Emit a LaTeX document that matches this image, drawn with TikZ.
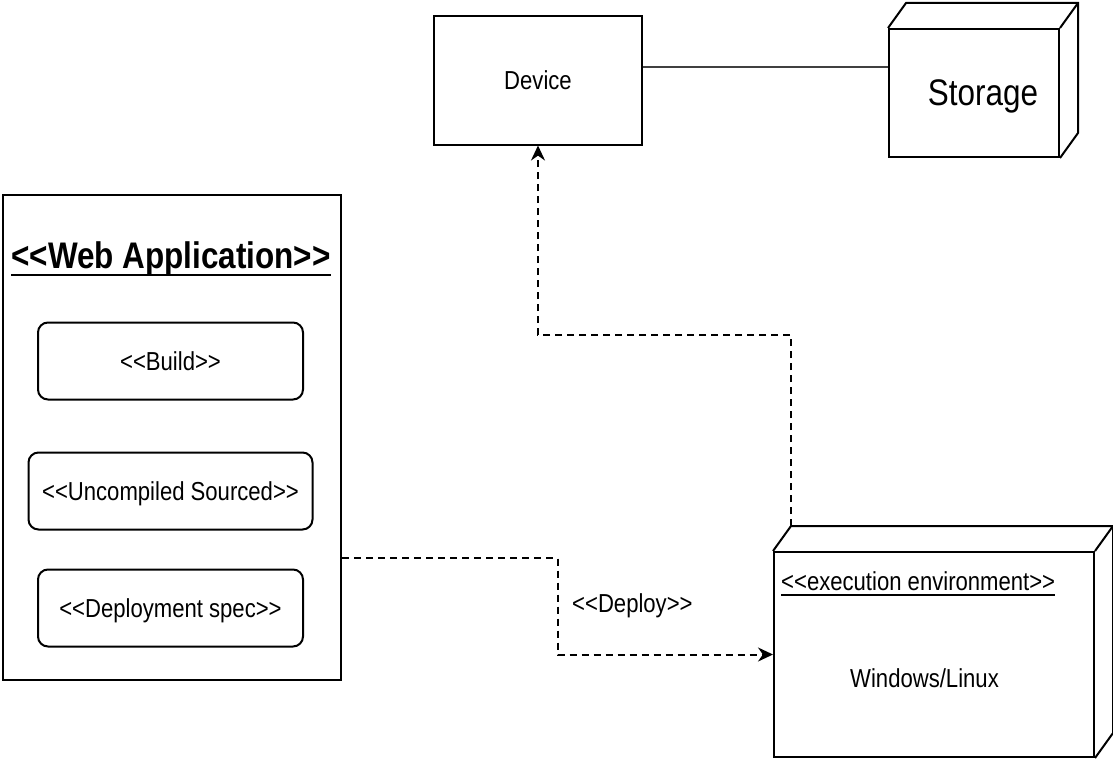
\documentclass[tikz,border=0pt]{standalone}
\usepackage{fontspec}
\setmainfont{Liberation Sans}[FakeStretch=0.85,Ligatures=TeXOff]
\usetikzlibrary{arrows.meta,positioning,calc}

\begin{document}
\begin{tikzpicture}[x=1pt,y=-1pt,>={Stealth[length=15pt,width=14pt]},
        every node/.style={inner sep=0pt,font=\fontsize{26}{31}\selectfont},
        box/.style={draw,line width=2pt},
        part/.style={box,rounded corners=10pt,minimum width=265pt,
          minimum height=77pt,text depth=0pt},
        big/.style={font=\fontsize{37}{44}\selectfont},
        title/.style={font=\fontsize{37}{44}\selectfont\bfseries},
        dep/.style={->,dash pattern=on 7pt off 5pt,line width=2pt}]

  \useasboundingbox (0,0) rectangle (1113,760);

  \node[box,minimum width=208pt,minimum height=128pt] (device) at (538,80.5) {Device};
  \node[box,big,minimum width=170pt,minimum height=128pt,text depth=0pt,
        right=245pt of device,yshift=-12.5pt] (storage) {\hspace*{18pt}Storage};

  \node[box,minimum width=320pt,minimum height=205pt] (exec) at (934,654.5) {};
  \node[anchor=base west] (envtitle) at (781,590) {<<execution environment>>};
  \node[anchor=base] (os) at (924.5,687) {Windows/Linux};

  \foreach \n in {storage,exec}
    \draw[line width=2pt] (\n.north west) -- ++(18,-25)
      -- ([shift={(18,-25)}]\n.north east) -- ([shift={(18,-25)}]\n.south east)
      -- (\n.south east) (\n.north east) -- ++(18,-25);

  \node[box,minimum width=338pt,minimum height=485pt] (webapp) at (172,437.5) {};
  \node[title,anchor=base] (apptitle) at (171,268) {<<Web Application>>};
  \node[part] (build) at (170.5,361) {<<Build>>};
  \node[part,minimum width=284pt,below=51pt of build] (source) {<<Uncompiled Sourced>>};
  \node[part,below=38pt of source] (spec) {<<Deployment spec>>};

  \draw[line width=2pt] ([yshift=-7pt]apptitle.base west) -- ([yshift=-7pt]apptitle.base east);
  \draw[line width=1.5pt] ([yshift=-5pt]envtitle.base west) -- ([yshift=-5pt]envtitle.base east);

  \coordinate (link) at ([yshift=13.5pt]device.east);
  \draw[line width=2pt,black!75] (link) -- (link -| storage.west);

  \coordinate (envtop) at ([shift={(18,-25)}]exec.north west);
  \draw[dep] (envtop) |- (device.south |- 0,335) -- (device.south);

  \coordinate (out) at ([yshift=-120.5pt]webapp.east);
  \draw[dep] (out) -| ($(out)!.5!(exec.west)$) |- (exec.west);
  \node[anchor=base west] (deploy) at (572,612) {<<Deploy>>};

\end{tikzpicture}
\end{document}
